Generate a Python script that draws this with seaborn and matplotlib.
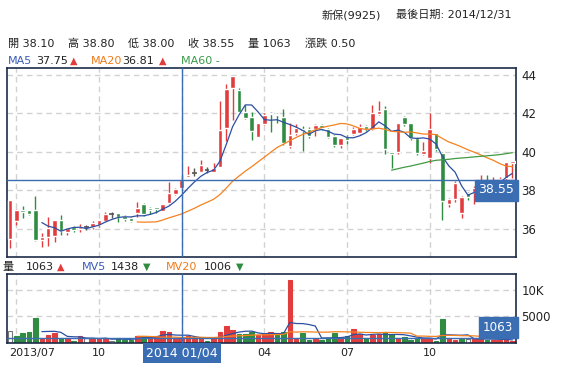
import numpy as np
import pandas as pd
import matplotlib
matplotlib.use('Agg')
import matplotlib.pyplot as plt
from matplotlib.patches import Rectangle
import seaborn as sns

# weekly candles, 新保(9925)
opens = [35.44, 36.41, 36.97, 36.97, 36.97, 35.41, 35.58, 35.63, 36.45, 35.84,
         36.07, 35.99, 36.10, 36.07, 36.19, 36.40, 36.76, 36.79, 36.66, 36.53,
         36.79, 37.28, 37.05, 37.10, 36.93, 37.35, 37.80, 38.10, 38.70, 38.91,
         38.96, 39.05, 38.96, 39.22, 41.26, 43.30, 43.22, 42.09, 41.83, 40.79,
         41.45, 42.04, 41.95, 41.81, 40.30, 41.00, 41.21, 41.19, 41.17, 41.40,
         41.19, 40.82, 40.35, 40.76, 40.93, 41.00, 41.35, 41.19, 41.97, 42.23,
         40.01, 40.01, 41.83, 41.48, 40.70, 39.89, 39.66, 40.96, 39.92, 37.27,
         37.53, 36.80, 37.84, 37.93, 38.10, 38.40, 38.30, 38.50, 38.62, 39.40]
highs = [37.50, 37.00, 37.18, 36.97, 37.70, 35.75, 36.60, 36.45, 36.71, 36.05,
         36.14, 36.24, 36.19, 36.41, 36.46, 36.88, 36.88, 36.79, 36.70, 36.62,
         37.37, 37.35, 37.14, 37.12, 37.30, 38.44, 38.10, 38.80, 39.26, 39.14,
         39.57, 39.22, 39.43, 42.65, 43.51, 43.95, 43.30, 42.44, 42.09, 41.50,
         42.00, 42.09, 42.00, 42.23, 41.48, 41.43, 41.36, 41.31, 41.45, 41.43,
         41.25, 40.88, 40.70, 40.88, 41.31, 41.43, 41.40, 42.44, 42.65, 42.40,
         40.01, 41.50, 41.85, 41.50, 40.75, 40.53, 42.00, 41.00, 40.00, 37.60,
         38.50, 37.70, 37.93, 38.20, 38.80, 38.80, 38.70, 38.70, 39.49, 39.50]
lows = [34.97, 36.17, 36.53, 36.70, 35.35, 35.02, 35.11, 35.32, 35.67, 35.67,
        35.82, 35.82, 35.93, 35.96, 36.10, 36.34, 36.53, 36.36, 36.40, 36.36,
        36.62, 36.66, 36.76, 36.80, 36.90, 37.30, 37.75, 38.00, 38.70, 38.76,
        38.93, 38.88, 38.93, 39.22, 40.56, 41.66, 42.05, 41.70, 40.61, 40.79,
        41.40, 41.05, 41.50, 40.35, 40.20, 40.90, 40.04, 40.74, 40.84, 41.15,
        40.70, 40.27, 40.18, 40.39, 40.90, 40.95, 41.10, 41.14, 41.90, 39.87,
        39.14, 39.90, 41.35, 40.60, 39.84, 39.85, 39.40, 40.05, 36.45, 37.10,
        37.40, 36.54, 37.49, 37.30, 37.90, 38.10, 38.10, 38.30, 38.50, 38.65]
closes = [37.49, 36.97, 36.86, 36.78, 35.41, 35.55, 36.03, 36.45, 35.87, 36.01,
          35.93, 36.10, 36.10, 36.31, 36.45, 36.76, 36.76, 36.62, 36.48, 36.41,
          37.06, 36.76, 36.97, 37.00, 37.28, 37.85, 38.05, 38.55, 38.80, 38.91,
          39.31, 39.05, 39.14, 41.13, 43.27, 43.95, 42.09, 41.78, 41.10, 41.48,
          41.92, 41.95, 41.90, 40.44, 40.88, 41.26, 41.10, 40.84, 41.40, 41.22,
          40.79, 40.35, 40.70, 40.62, 41.19, 41.31, 41.17, 42.00, 42.13, 40.13,
          39.90, 41.48, 41.43, 40.70, 39.96, 40.06, 41.17, 40.13, 37.44, 37.54,
          38.40, 37.67, 37.67, 38.13, 38.40, 38.30, 38.50, 38.60, 39.49, 39.50]
volumes = [2300, 1370, 1870, 2050, 4800, 800, 1550, 1990, 1050, 1050,
           430, 1430, 930, 930, 740, 800, 490, 1050, 680, 680,
           1370, 1370, 1240, 1370, 2300, 2050, 740, 1063, 1430, 1050,
           930, 430, 930, 2050, 3230, 2480, 1740, 1740, 2180, 1550,
           1740, 2050, 1550, 2180, 11850, 800, 1990, 680, 800, 680,
           930, 1990, 930, 1430, 2680, 1740, 930, 1550, 1740, 2180,
           1740, 1050, 1240, 680, 1050, 930, 930, 430, 4550, 1050,
           680, 800, 800, 930, 930, 600, 680, 600, 800, 500]

last_date = pd.Timestamp('2014-12-31')
dates = pd.date_range('2013-06-29', periods=len(closes), freq='7D')
dates = dates.where(dates <= last_date, last_date)
cross_date = '2014-01-04'

RED = '#e23d3d'
GREEN = '#2f8c40'
GRAY = '#555555'
BLUE = '#2c4fa3'
ORANGE = '#f5821f'
MA60C = '#3f9a44'
CROSS = '#3a6db2'
FRAME = '#1d2c48'
TXT = '#222222'

W, H = 565, 367

sns.set_theme(style='white')
plt.rcParams['font.family'] = ['DejaVu Sans', 'Noto Sans CJK TC']

df = pd.DataFrame({'date': dates, 'open': opens, 'high': highs, 'low': lows,
                   'close': closes, 'vol': volumes})
df['idx'] = np.arange(len(df))
cross = int(np.where(df['date'] == pd.Timestamp(cross_date))[0][0])


def moving(s, n):
    m = s.rolling(n).mean()
    m.iloc[:n] = np.nan
    return m


df['ma5'] = moving(df['close'], 5)
df['ma20'] = moving(df['close'], 20)
df['ma60'] = moving(df['close'], 60)
df['mv5'] = moving(df['vol'], 5)
df['mv20'] = moving(df['vol'], 20)

fig = plt.figure(figsize=(W / 100, H / 100), dpi=100)
ax = fig.add_axes([7 / W, 1 - 257 / H, 509 / W, 189 / H])
axv = fig.add_axes([7 / W, 1 - 343.3 / H, 509 / W, 69.3 / H])

# quarter grid positions from dates
qpos, qlab = [], []
for i, d in enumerate(df['date']):
    if d.month in (1, 4, 7, 10) and d.day <= 7:
        qpos.append(i)
        if not qlab:
            qlab.append(d.strftime('%Y/%m'))
        else:
            qlab.append(d.strftime('%m'))

for a in (ax, axv):
    a.set_xlim(-0.48, len(df) - 0.43)
    for x in qpos:
        a.axvline(x, color='#d2d2d2', lw=1, ls=(0, (4, 3)), zorder=0)
    for s in a.spines.values():
        s.set_color(FRAME)
        s.set_linewidth(1.2)
    a.axvline(cross, color=CROSS, lw=1, zorder=5)
    a.set_xticks([])
    a.set_xlabel('')
    a.set_ylabel('')

# candles
up = df['close'] > df['open']
dn = df['close'] < df['open']
eq = df['close'] == df['open']
ccol = np.where(up, RED, np.where(dn, GREEN, GRAY))
ax.vlines(df['idx'], df['low'], df['high'], colors=ccol, lw=1, zorder=2)
body_lo = np.minimum(df['open'], df['close'])
body_h = (df['close'] - df['open']).abs()
ax.bar(df['idx'][~eq], body_h[~eq], bottom=body_lo[~eq], width=0.72,
       color=ccol[~eq], zorder=3)
ax.hlines(df['close'][eq], df['idx'][eq] - 0.36, df['idx'][eq] + 0.36,
          colors=GRAY, lw=1.2, zorder=3)

sns.lineplot(data=df, x='idx', y='ma5', ax=ax, color=BLUE, lw=0.9, zorder=4)
sns.lineplot(data=df, x='idx', y='ma20', ax=ax, color=ORANGE, lw=0.9, zorder=4)
sns.lineplot(data=df, x='idx', y='ma60', ax=ax, color=MA60C, lw=0.9, zorder=4)

ax.set_ylim(34.52, 44.365)
yt = [36, 38, 40, 42, 44]
for y in yt:
    ax.axhline(y, color='#d2d2d2', lw=1, ls=(0, (4, 3)), zorder=0)
ax.set_yticks(yt)
ax.yaxis.tick_right()
ax.tick_params(axis='y', length=0, pad=4, labelsize=8.5, labelcolor=TXT)
ax.set_xlabel('')
ax.set_ylabel('')
ax.axhline(df['close'][cross], color=CROSS, lw=1, zorder=5)

# volume
prev = df['close'].shift(1)
vfill = np.where(df['close'] > prev, RED, np.where(df['close'] < prev, GREEN, 'white'))
vedge = np.where(vfill == 'white', '#777777', vfill)
axv.bar(df['idx'], df['vol'], width=0.72, color=vfill, edgecolor=vedge,
        linewidth=0.8, zorder=2)
sns.lineplot(data=df, x='idx', y='mv5', ax=axv, color=BLUE, lw=0.9, zorder=4)
sns.lineplot(data=df, x='idx', y='mv20', ax=axv, color=ORANGE, lw=0.9, zorder=4)
axv.set_ylim(0, 12920)
for y in (5000, 10000):
    axv.axhline(y, color='#d2d2d2', lw=1, ls=(0, (4, 3)), zorder=0)
axv.set_yticks([5000, 10000])
axv.set_yticklabels(['5000', '10K'])
axv.yaxis.tick_right()
axv.tick_params(axis='y', length=0, pad=4, labelsize=8.5, labelcolor=TXT)
axv.set_xlabel('')
axv.set_ylabel('')
axv.axhline(df['vol'][cross], color=CROSS, lw=1, zorder=5)

# x labels (the crosshair box replaces the one under it)
xt = axv.get_xaxis_transform()
for k, (x, lab) in enumerate(zip(qpos, qlab)):
    if x == cross:
        continue
    if k == 0:
        axv.text(x - 1.2, -0.14, lab, transform=xt, ha='left', va='center',
                 fontsize=8, color=TXT)
    else:
        axv.text(x, -0.14, lab, transform=xt, ha='center', va='center',
                 fontsize=8, color=TXT)

# value boxes on the right edge
tr = ax.get_yaxis_transform()
c = df['close'][cross]
ax.add_patch(Rectangle((0.919, c - 1.09), 0.085, 1.09, transform=tr,
                       color=CROSS, clip_on=False, zorder=6))
ax.text(0.96, c - 0.53, f'{c:.2f}', transform=tr, color='white', fontsize=9,
        ha='center', va='center', zorder=7)
trv = axv.get_yaxis_transform()
v = df['vol'][cross]
axv.add_patch(Rectangle((0.927, v), 0.077, 3930, transform=trv,
                        color=CROSS, clip_on=False, zorder=6))
axv.text(0.964, v + 1965, f'{v}', transform=trv, color='white', fontsize=8.6,
         ha='center', va='center', zorder=7)

# date box under crosshair
axv.text(cross, -0.14, df['date'][cross].strftime('%Y %m/%d'), transform=xt,
         color='white', fontsize=9, ha='center', va='center',
         bbox=dict(boxstyle='square,pad=0.25', fc=CROSS, ec='none'))


def put(x, y, s, color=TXT, size=8):
    fig.text(x / W, 1 - y / H, s, color=color, fontsize=size, ha='left', va='center')


put(322, 15, '新保(9925)')
put(396, 15, '最後日期: 2014/12/31')

put(8, 44, '開 38.10')
put(68, 44, '高 38.80')
put(128, 44, '低 38.00')
put(188, 44, '收 38.55')
put(248, 44, '量 1063')
put(305, 44, '漲跌 0.50')

put(8, 61, 'MA5', '#3a5cb8')
put(36, 61, '37.75')
put(70, 61, '▲', RED, 7)
put(91, 61, 'MA20', '#f07a18')
put(122, 61, '36.81')
put(159, 61, '▲', RED, 7)
put(181, 61, 'MA60 -', '#3a9a4a')

put(2, 267, '量')
put(26, 267, '1063')
put(57, 267, '▲', RED, 7)
put(82, 267, 'MV5', '#3a5cb8')
put(111, 267, '1438')
put(143, 267, '▼', GREEN, 7)
put(166, 267, 'MV20', '#f07a18')
put(204, 267, '1006')
put(236, 267, '▼', GREEN, 7)

fig.savefig('out.png', dpi=100)
